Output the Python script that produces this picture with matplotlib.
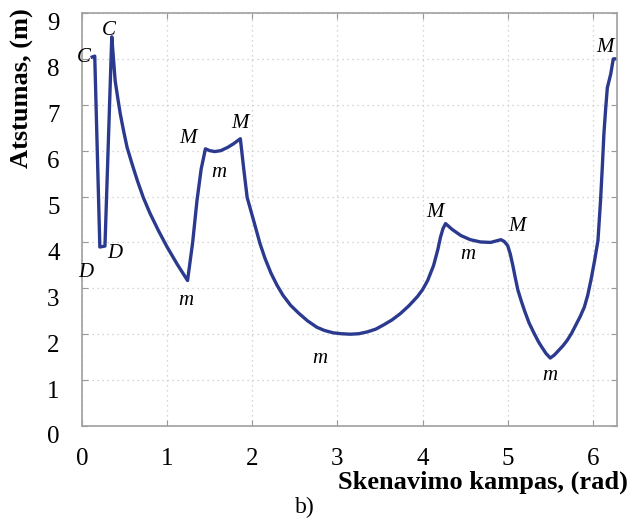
import numpy as np
import matplotlib.pyplot as plt
from matplotlib.transforms import ScaledTranslation

# scan angle (rad) and measured distance (m)
angle = [0.12, 0.15, 0.21, 0.27, 0.35, 0.37, 0.39, 0.42, 0.45, 0.49, 0.53, 0.59, 0.65,
         0.72, 0.80, 0.90, 1.00, 1.12, 1.24, 1.30, 1.35, 1.40, 1.45, 1.50, 1.56, 1.63,
         1.71, 1.78, 1.86, 1.90, 1.94, 2.02, 2.09, 2.15, 2.22, 2.29, 2.36, 2.45, 2.55,
         2.65, 2.76, 2.85, 2.95, 3.05, 3.15, 3.25, 3.35, 3.45, 3.54, 3.64, 3.74, 3.84,
         3.94, 4.00, 4.06, 4.13, 4.18, 4.21, 4.24, 4.27, 4.35, 4.45, 4.56, 4.68, 4.80,
         4.88, 4.92, 4.96, 5.00, 5.03, 5.06, 5.09, 5.12, 5.16, 5.20, 5.25, 5.31, 5.36,
         5.40, 5.45, 5.50, 5.55, 5.60, 5.65, 5.70, 5.75, 5.80, 5.85, 5.90, 5.94, 5.98,
         6.02, 6.06, 6.09, 6.11, 6.13, 6.15, 6.17, 6.21, 6.24, 6.28]
distance = [8.04, 8.06, 3.90, 3.92, 8.48, 8.00, 7.52, 7.15, 6.80, 6.42, 6.07, 5.70, 5.35,
            4.98, 4.63, 4.25, 3.90, 3.52, 3.17, 4.00, 4.90, 5.60, 6.04, 6.00, 5.98, 6.00,
            6.07, 6.15, 6.26, 5.60, 4.98, 4.45, 3.98, 3.65, 3.33, 3.07, 2.85, 2.63, 2.45,
            2.29, 2.15, 2.08, 2.03, 2.01, 2.00, 2.01, 2.05, 2.11, 2.20, 2.31, 2.45, 2.62,
            2.82, 2.97, 3.17, 3.50, 3.85, 4.11, 4.30, 4.41, 4.28, 4.15, 4.06, 4.01, 4.00,
            4.04, 4.06, 4.02, 3.93, 3.75, 3.50, 3.22, 2.96, 2.72, 2.50, 2.25, 2.02, 1.84,
            1.72, 1.58, 1.48, 1.55, 1.65, 1.75, 1.87, 2.02, 2.20, 2.38, 2.59, 2.85, 3.20,
            3.60, 4.04, 4.90, 5.60, 6.37, 6.90, 7.37, 7.67, 8.00, 8.00]

# feature labels: C - corner, D - depth, M - maximum, m - minimum
marks = ['C', 'C', 'D', 'D', 'M', 'M', 'm', 'm', 'm', 'M', 'm', 'M', 'm', 'M']
mark_x = [0.02, 0.31, 0.05, 0.39, 1.25, 1.86, 1.61, 1.22, 2.79, 4.14, 4.53, 5.11, 5.49, 6.14]
mark_y = [8.02, 8.61, 3.35, 3.76, 6.26, 6.59, 5.52, 2.74, 1.48, 4.65, 3.74, 4.35, 1.11, 8.24]

plt.rcParams['font.family'] = ['Liberation Serif', 'DejaVu Serif']

fig = plt.figure(figsize=(6.32, 5.23), dpi=100)
ax = fig.add_axes([0.1297, 0.1855, 0.8465, 0.7897])

ax.plot(angle, distance, color='#2b3a8e', lw=2.4, solid_joinstyle='round')

for t, x, y in zip(marks, mark_x, mark_y):
    ax.text(x, y, t, fontsize=15, style='italic', ha='center', va='center')

ax.set_xlim(0, 2 * np.pi)
ax.set_ylim(0, 9)
ax.set_xticks(np.arange(0, 7, 1))
ax.set_yticks(np.arange(0, 10, 1))
ax.grid(True, color='#c8c8c8', linestyle=(0, (1, 3)), lw=0.9)
ax.tick_params(direction='in', length=4, color='#999999', labelsize=18, pad=16,
               top=True, right=True)
for s in ax.spines.values():
    s.set_color('#a0a0a0')
    s.set_linewidth(1.2)

shift = ScaledTranslation(0, -0.09, fig.dpi_scale_trans)
for lab in ax.get_yticklabels():
    lab.set_transform(lab.get_transform() + shift)

fig.text(0.994, 0.078, 'Skenavimo kampas, (rad)', fontsize=19, fontweight='bold',
         ha='right', va='center')
fig.text(0.035, 0.832, 'Atstumas, (m)', fontsize=19, fontweight='bold',
         rotation=90, ha='center', va='center')
fig.text(0.483, 0.029, 'b)', fontsize=17, ha='center', va='center')

plt.savefig('out.png', dpi=100)
